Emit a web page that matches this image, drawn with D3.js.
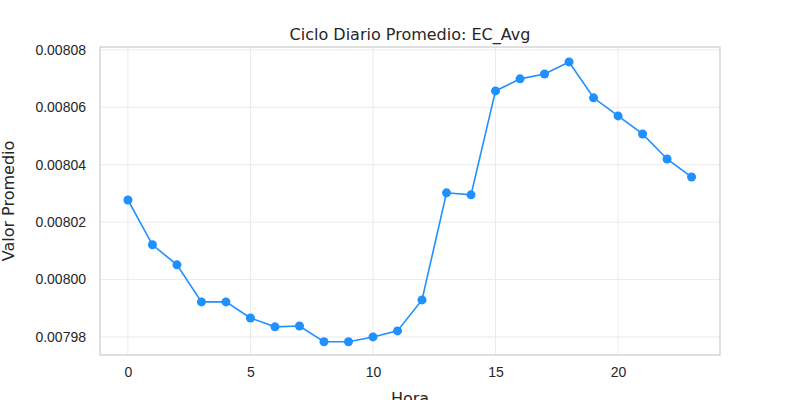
<!DOCTYPE html>
<html lang="en">
<head>
<meta charset="utf-8">
<title>Ciclo Diario Promedio</title>
<script src="https://d3js.org/d3.v7.min.js"></script>
<style>
  body { margin: 0; background: #fff; font-family: "DejaVu Sans", sans-serif; }
  .tick text { font-size: 14px; fill: #262626; }
  .tick line { stroke: none; }
  .domain { stroke: none; }
</style>
</head>
<body>
<svg id="chart" width="800" height="400"></svg>
<script>
var hours = [0,1,2,3,4,5,6,7,8,9,10,11,12,13,14,15,16,17,18,19,20,21,22,23];
var values = [0.0080277,0.0080121,0.0080051,0.0079922,0.0079922,0.0079866,0.0079835,0.0079838,
              0.0079783,0.0079783,0.0079800,0.0079821,0.0079929,0.0080302,0.0080295,0.0080657,
              0.0080699,0.0080716,0.0080758,0.0080633,0.0080570,0.0080507,0.0080420,0.0080357];
var xTicks = [0,5,10,15,20];
var yTicks = [0.00798,0.00800,0.00802,0.00804,0.00806,0.00808];

// note: "top" clashes with window.top, so plot edges use other names
var pLeft = 100, pRight = 720, pTop = 47, pBottom = 355;
var svg = d3.select("#chart");
var x = d3.scaleLinear().domain([-1.14, 24.16]).range([pLeft, pRight]);
var y = d3.scaleLinear().domain([0.0079737, 0.008081]).range([pBottom, pTop]);

// grid
svg.append("g").selectAll("line").data(xTicks).enter().append("line")
  .attr("x1", d => x(d)).attr("x2", d => x(d)).attr("y1", pTop).attr("y2", pBottom)
  .attr("stroke", "#ebebeb");
svg.append("g").selectAll("line").data(yTicks).enter().append("line")
  .attr("y1", d => y(d)).attr("y2", d => y(d)).attr("x1", pLeft).attr("x2", pRight)
  .attr("stroke", "#ebebeb");

svg.append("rect").attr("x", pLeft).attr("y", pTop).attr("width", pRight-pLeft).attr("height", pBottom-pTop)
  .attr("fill", "none").attr("stroke", "#cccccc").attr("stroke-width", 1.2);

svg.append("g").attr("transform", "translate(0," + pBottom + ")")
  .call(d3.axisBottom(x).tickValues(xTicks).tickSize(0).tickPadding(12).tickFormat(d3.format("d")));
svg.append("g").attr("transform", "translate(" + pLeft + ",0)")
  .call(d3.axisLeft(y).tickValues(yTicks).tickSize(0).tickPadding(14).tickFormat(d3.format(".5f")));

var line = d3.line().x((d, i) => x(hours[i])).y(d => y(d));
svg.append("path").datum(values).attr("d", line)
  .attr("fill", "none").attr("stroke", "#1e90ff").attr("stroke-width", 1.6);
svg.append("g").selectAll("circle").data(values).enter().append("circle")
  .attr("cx", (d, i) => x(hours[i])).attr("cy", d => y(d)).attr("r", 4.5).attr("fill", "#1e90ff");

svg.append("text").attr("x", (pLeft+pRight)/2).attr("y", 40).attr("text-anchor", "middle")
  .attr("font-size", 16).attr("fill", "#262626").text("Ciclo Diario Promedio: EC_Avg");
svg.append("text").attr("x", (pLeft+pRight)/2).attr("y", 404).attr("text-anchor", "middle")
  .attr("font-size", 16).attr("fill", "#262626").text("Hora");
svg.append("text").attr("transform", "translate(14," + (pTop+pBottom)/2 + ") rotate(-90)")
  .attr("text-anchor", "middle").attr("font-size", 16).attr("fill", "#262626").text("Valor Promedio");
</script>
</body>
</html>
